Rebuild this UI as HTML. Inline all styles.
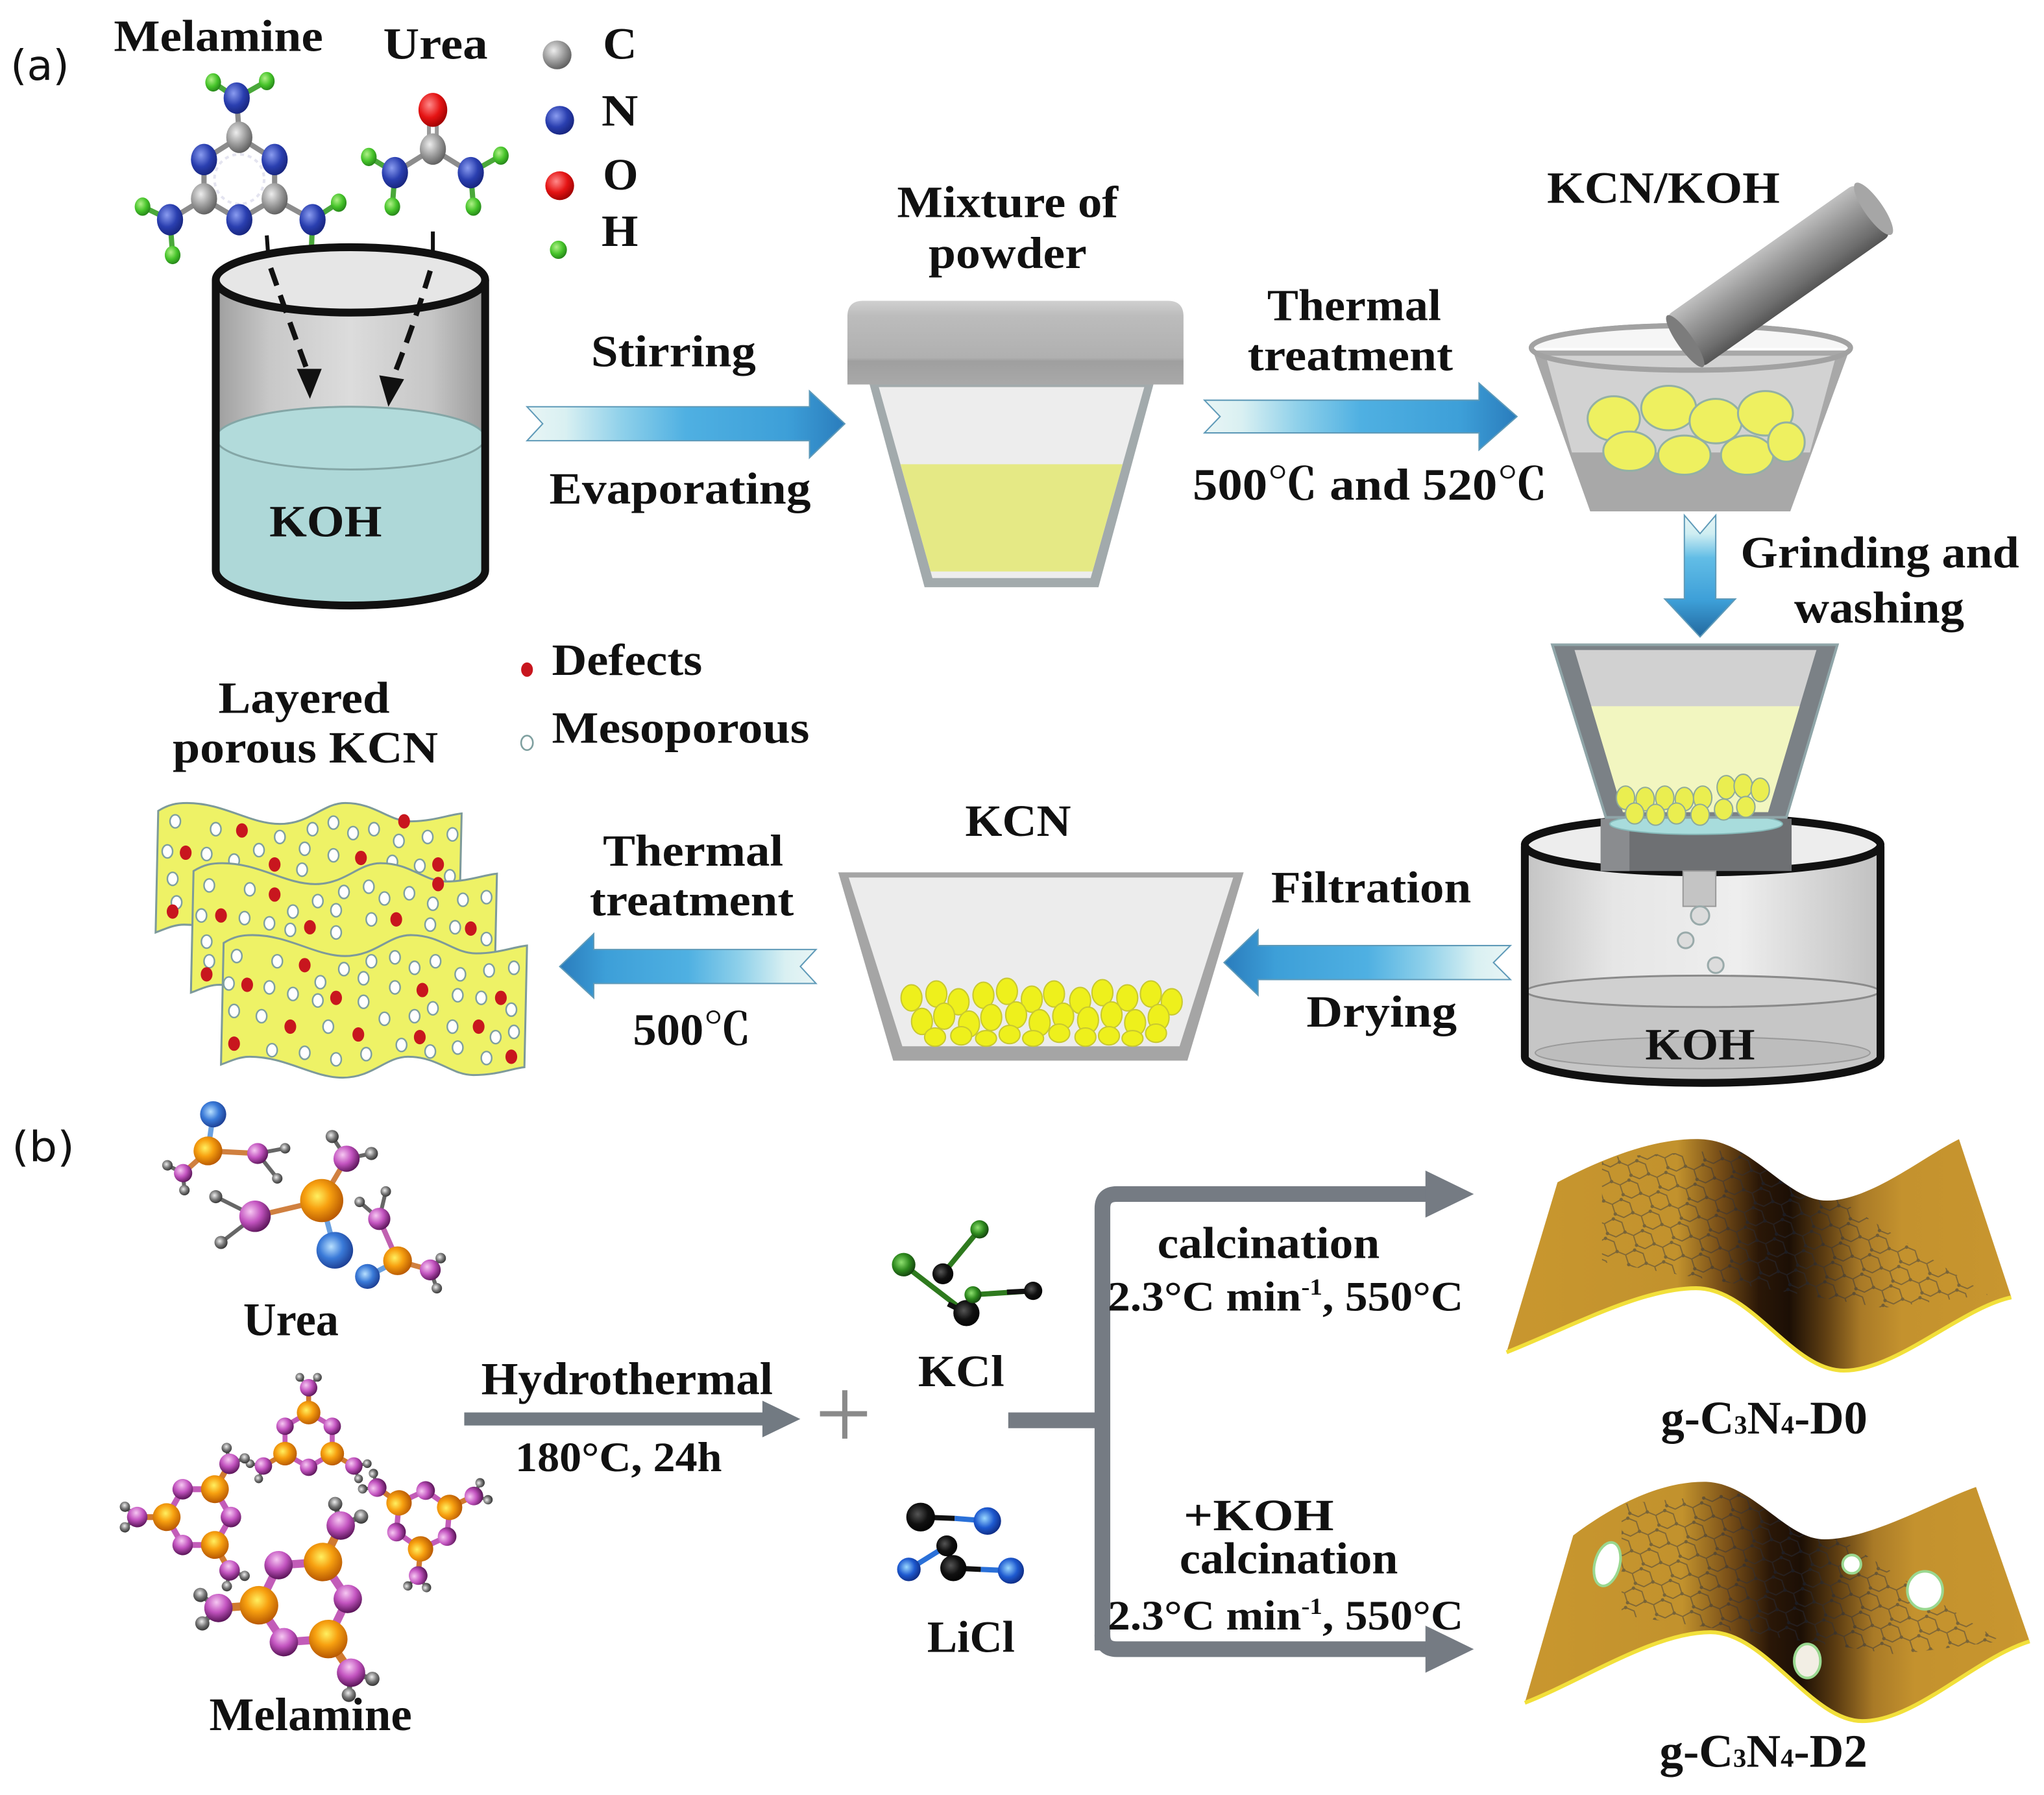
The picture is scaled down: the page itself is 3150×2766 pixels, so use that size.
<!DOCTYPE html>
<html><head><meta charset="utf-8">
<style>
html,body{margin:0;padding:0;background:#fff;}
svg{display:block;}
.t{font-family:"Liberation Serif","Noto Serif CJK SC",serif;font-weight:bold;fill:#111;}
.s{font-family:"DejaVu Sans","Liberation Sans",sans-serif;fill:#111;}
</style></head>
<body>
<svg xmlns="http://www.w3.org/2000/svg" width="3150" height="2766" viewBox="0 0 1563 1372.5" preserveAspectRatio="none">
<defs>
 <linearGradient id="arR" x1="0" y1="0" x2="1" y2="0">
  <stop offset="0" stop-color="#e9f5f5"/><stop offset="0.12" stop-color="#d9f0f2"/>
  <stop offset="0.3" stop-color="#8ed0ea"/><stop offset="0.5" stop-color="#4fb0e2"/>
  <stop offset="0.82" stop-color="#3d9fd8"/><stop offset="1" stop-color="#2a7cbc"/>
 </linearGradient>
 <linearGradient id="arL" x1="1" y1="0" x2="0" y2="0">
  <stop offset="0" stop-color="#e9f5f5"/><stop offset="0.12" stop-color="#d9f0f2"/>
  <stop offset="0.3" stop-color="#8ed0ea"/><stop offset="0.5" stop-color="#4fb0e2"/>
  <stop offset="0.82" stop-color="#3d9fd8"/><stop offset="1" stop-color="#2a7cbc"/>
 </linearGradient>
 <linearGradient id="arD" x1="0" y1="0" x2="0" y2="1">
  <stop offset="0" stop-color="#e9f5f5"/><stop offset="0.15" stop-color="#cfeef2"/>
  <stop offset="0.35" stop-color="#62bde6"/><stop offset="0.7" stop-color="#3d9fd8"/>
  <stop offset="1" stop-color="#22689e"/>
 </linearGradient>
 <radialGradient id="gC" cx=".38" cy=".35" r=".7"><stop offset="0" stop-color="#ededed"/><stop offset=".55" stop-color="#9a9a9a"/><stop offset="1" stop-color="#5a5a5a"/></radialGradient>
 <radialGradient id="gN" cx=".38" cy=".35" r=".7"><stop offset="0" stop-color="#8a9cf0"/><stop offset=".55" stop-color="#2a3fb0"/><stop offset="1" stop-color="#16237a"/></radialGradient>
 <radialGradient id="gR" cx=".38" cy=".35" r=".7"><stop offset="0" stop-color="#ff8a8a"/><stop offset=".55" stop-color="#e51414"/><stop offset="1" stop-color="#9a0000"/></radialGradient>
 <radialGradient id="gG" cx=".38" cy=".35" r=".7"><stop offset="0" stop-color="#b0f088"/><stop offset=".55" stop-color="#46c42a"/><stop offset="1" stop-color="#238018"/></radialGradient>
 <radialGradient id="gO" cx=".4" cy=".4" r=".65"><stop offset="0" stop-color="#fff060"/><stop offset=".45" stop-color="#f7a010"/><stop offset="1" stop-color="#b45400"/></radialGradient>
 <radialGradient id="gP" cx=".35" cy=".35" r=".7"><stop offset="0" stop-color="#f6c8f2"/><stop offset=".5" stop-color="#c354c0"/><stop offset="1" stop-color="#5a1458"/></radialGradient>
 <radialGradient id="gB" cx=".4" cy=".4" r=".65"><stop offset="0" stop-color="#b8e0ff"/><stop offset=".5" stop-color="#3a7ad8"/><stop offset="1" stop-color="#1a3a8e"/></radialGradient>
 <radialGradient id="gH" cx=".4" cy=".4" r=".7"><stop offset="0" stop-color="#eeeeee"/><stop offset=".5" stop-color="#777"/><stop offset="1" stop-color="#222"/></radialGradient>
 <radialGradient id="gK" cx=".4" cy=".4" r=".7"><stop offset="0" stop-color="#555"/><stop offset=".5" stop-color="#111"/><stop offset="1" stop-color="#000"/></radialGradient>
 <radialGradient id="gKg" cx=".4" cy=".4" r=".7"><stop offset="0" stop-color="#8ee070"/><stop offset=".5" stop-color="#2e8a1e"/><stop offset="1" stop-color="#0d300a"/></radialGradient>
 <radialGradient id="gLb" cx=".4" cy=".4" r=".7"><stop offset="0" stop-color="#9ad8ff"/><stop offset=".5" stop-color="#1e5ad0"/><stop offset="1" stop-color="#0a2070"/></radialGradient>
 <linearGradient id="cyl1" x1="0" y1="0" x2="1" y2="0">
  <stop offset="0" stop-color="#9e9e9e"/><stop offset=".2" stop-color="#c8c8c8"/><stop offset=".5" stop-color="#dcdcdc"/><stop offset=".8" stop-color="#c6c6c6"/><stop offset="1" stop-color="#9a9a9a"/>
 </linearGradient>
 <linearGradient id="cyl2" x1="0" y1="0" x2="1" y2="0">
  <stop offset="0" stop-color="#c4c4c4"/><stop offset=".25" stop-color="#e6e6e6"/><stop offset=".6" stop-color="#eeeeee"/><stop offset="1" stop-color="#c0c0c0"/>
 </linearGradient>
 <linearGradient id="lid" x1="0" y1="0" x2="0" y2="1">
  <stop offset="0" stop-color="#d0d0d0"/><stop offset=".18" stop-color="#bcbcbc"/><stop offset=".68" stop-color="#b0b0b0"/><stop offset=".72" stop-color="#9f9f9f"/><stop offset="1" stop-color="#a9a9a9"/>
 </linearGradient>
 <linearGradient id="pest" x1="0" y1="0" x2="0" y2="1">
  <stop offset="0" stop-color="#c0c0c0"/><stop offset=".35" stop-color="#9a9a9a"/><stop offset=".8" stop-color="#6e6e6e"/><stop offset="1" stop-color="#555"/>
 </linearGradient>
 <linearGradient id="gold0" gradientUnits="userSpaceOnUse" x1="1150" y1="0" x2="1540" y2="0">
  <stop offset="0" stop-color="#c9972f"/><stop offset=".34" stop-color="#c2922d"/><stop offset=".42" stop-color="#7a5018"/>
  <stop offset=".5" stop-color="#2a1707"/><stop offset=".56" stop-color="#1c0f05"/><stop offset=".63" stop-color="#5e3e12"/>
  <stop offset=".7" stop-color="#a97a27"/><stop offset=".78" stop-color="#c4922e"/><stop offset="1" stop-color="#c8962f"/>
 </linearGradient>
 <linearGradient id="gold2" gradientUnits="userSpaceOnUse" x1="1160" y1="0" x2="1555" y2="0">
  <stop offset="0" stop-color="#c9972f"/><stop offset=".32" stop-color="#c2922d"/><stop offset=".41" stop-color="#7a5018"/>
  <stop offset=".49" stop-color="#2a1707"/><stop offset=".55" stop-color="#1c0f05"/><stop offset=".62" stop-color="#5e3e12"/>
  <stop offset=".69" stop-color="#a97a27"/><stop offset=".77" stop-color="#c4922e"/><stop offset="1" stop-color="#c8962f"/>
 </linearGradient>
 <pattern id="net" width="24" height="16" patternUnits="userSpaceOnUse" patternTransform="rotate(22)">
  <path d="M0,8 L5,2 L12,2 L17,8 L12,14 L5,14 Z M17,8 L24,8" fill="none" stroke="#2a3040" stroke-width="0.9"/>
  <circle cx="5" cy="2" r="1.3" fill="#1a2a44"/><circle cx="17" cy="8" r="1.3" fill="#1a2a44"/><circle cx="5" cy="14" r="1.3" fill="#1a2a44"/>
 </pattern>
 <clipPath id="clipD0"><path d="M1152,1034 L1191,904 C1225,886 1265,870 1300,871 C1340,872 1365,918 1397,918 C1430,918 1470,885 1498,871 L1538,992 C1500,1000 1450,1048 1410,1048 C1370,1048 1340,985 1297,985 C1255,985 1200,1015 1152,1034 Z"/></clipPath>
 <clipPath id="clipD2"><path d="M1166,1302 L1203,1174 C1235,1150 1270,1133 1303,1133 C1340,1133 1365,1177 1395,1177 C1430,1177 1480,1148 1511,1137 L1552,1255 C1510,1268 1465,1316 1424,1316 C1385,1316 1350,1248 1308,1248 C1265,1248 1210,1285 1166,1302 Z"/></clipPath>
 <g id="mring">
  <polygon points="0,-22 19,-11 19,11 0,22 -19,11 -19,-11" fill="none" stroke="#c25cb8" stroke-width="4"/>
  <g stroke="#d07a30" stroke-width="4"><line x1="0" y1="-22" x2="0" y2="-42"/><line x1="19" y1="11" x2="36.4" y2="21"/><line x1="-19" y1="11" x2="-36.4" y2="21"/></g>
  <g stroke="#666" stroke-width="2.5"><line x1="0" y1="-42" x2="7.1" y2="-50.4"/><line x1="0" y1="-42" x2="-7.1" y2="-50.4"/><line x1="36.4" y1="21" x2="40.2" y2="31.3"/><line x1="36.4" y1="21" x2="47.2" y2="19.1"/><line x1="-36.4" y1="21" x2="-40.2" y2="31.3"/><line x1="-36.4" y1="21" x2="-47.2" y2="19.1"/></g>
  <g fill="url(#gH)"><circle cx="7.1" cy="-50.4" r="3.5"/><circle cx="-7.1" cy="-50.4" r="3.5"/><circle cx="40.2" cy="31.3" r="3.5"/><circle cx="47.2" cy="19.1" r="3.5"/><circle cx="-40.2" cy="31.3" r="3.5"/><circle cx="-47.2" cy="19.1" r="3.5"/></g>
  <g fill="url(#gP)"><circle cx="19" cy="-11" r="7"/><circle cx="0" cy="22" r="7"/><circle cx="-19" cy="-11" r="7"/><circle cx="0" cy="-42" r="7"/><circle cx="36.4" cy="21" r="7"/><circle cx="-36.4" cy="21" r="7"/></g>
  <g fill="url(#gO)"><circle cx="0" cy="-22" r="9.5"/><circle cx="19" cy="11" r="9.5"/><circle cx="-19" cy="11" r="9.5"/></g>
 </g>
</defs>

<rect x="0" y="0" width="1563" height="1372.5" fill="#fff"/>

<!-- ================= (a) ================= -->
<text class="s" x="8" y="61" font-size="32" textLength="45" lengthAdjust="spacingAndGlyphs">(a)</text>
<text class="t" x="87" y="39" font-size="34" textLength="160" lengthAdjust="spacingAndGlyphs">Melamine</text>
<text class="t" x="293" y="45" font-size="34" textLength="80" lengthAdjust="spacingAndGlyphs">Urea</text>

<!-- legend -->
<ellipse cx="426" cy="42" rx="11" ry="11" fill="url(#gC)"/>
<ellipse cx="428" cy="92" rx="11" ry="11" fill="url(#gN)"/>
<ellipse cx="428" cy="142" rx="11" ry="11" fill="url(#gR)"/>
<ellipse cx="427" cy="191" rx="6.5" ry="7" fill="url(#gG)"/>
<text class="t" x="461" y="45" font-size="34" textLength="26" lengthAdjust="spacingAndGlyphs">C</text>
<text class="t" x="460" y="96" font-size="34" textLength="28" lengthAdjust="spacingAndGlyphs">N</text>
<text class="t" x="461" y="145" font-size="34" textLength="27" lengthAdjust="spacingAndGlyphs">O</text>
<text class="t" x="460" y="188" font-size="34" textLength="28" lengthAdjust="spacingAndGlyphs">H</text>

<!-- melamine molecule (a) -->
<g stroke="#8c8c8c" stroke-width="4" fill="none">
 <polygon points="183,105 156,122 156,152 183,168 210,152 210,122"/>
 <line x1="183" y1="105" x2="181" y2="75"/><line x1="156" y1="152" x2="130" y2="168"/><line x1="210" y1="152" x2="239" y2="168"/>
</g>
<g stroke="#4aa83a" stroke-width="4">
 <line x1="181" y1="75" x2="163" y2="63"/><line x1="181" y1="75" x2="204" y2="62"/>
 <line x1="130" y1="168" x2="109" y2="158"/><line x1="130" y1="168" x2="132" y2="195"/>
 <line x1="239" y1="168" x2="259" y2="155"/><line x1="239" y1="168" x2="238" y2="194"/>
</g>
<circle cx="183" cy="137" r="19" fill="none" stroke="#e4e4f0" stroke-width="2" stroke-dasharray="3,3"/>
<g fill="url(#gG)">
 <ellipse cx="163" cy="63" rx="6" ry="7"/><ellipse cx="204" cy="62" rx="6" ry="7"/>
 <ellipse cx="109" cy="158" rx="6" ry="7"/><ellipse cx="132" cy="195" rx="6" ry="7"/>
 <ellipse cx="259" cy="155" rx="6" ry="7"/><ellipse cx="238" cy="194" rx="6" ry="7"/>
</g>
<g fill="url(#gN)">
 <ellipse cx="181" cy="75" rx="10" ry="12"/><ellipse cx="156" cy="122" rx="10" ry="12"/><ellipse cx="210" cy="122" rx="10" ry="12"/>
 <ellipse cx="183" cy="168" rx="10" ry="12"/><ellipse cx="130" cy="168" rx="10" ry="12"/><ellipse cx="239" cy="168" rx="10" ry="12"/>
</g>
<g fill="url(#gC)">
 <ellipse cx="183" cy="105" rx="10" ry="12"/><ellipse cx="156" cy="152" rx="10" ry="12"/><ellipse cx="210" cy="152" rx="10" ry="12"/>
</g>

<!-- urea molecule (a) -->
<g stroke="#999" stroke-width="3"><line x1="328" y1="86" x2="328" y2="112"/><line x1="334" y1="86" x2="334" y2="112"/></g>
<g stroke="#8c8c8c" stroke-width="4"><line x1="331" y1="114" x2="302" y2="132"/><line x1="331" y1="114" x2="360" y2="132"/></g>
<g stroke="#4aa83a" stroke-width="4">
 <line x1="302" y1="132" x2="282" y2="120"/><line x1="302" y1="132" x2="300" y2="158"/>
 <line x1="360" y1="132" x2="383" y2="119"/><line x1="360" y1="132" x2="362" y2="158"/>
</g>
<g fill="url(#gG)">
 <ellipse cx="282" cy="120" rx="6" ry="7"/><ellipse cx="300" cy="158" rx="6" ry="7"/>
 <ellipse cx="383" cy="119" rx="6" ry="7"/><ellipse cx="362" cy="158" rx="6" ry="7"/>
</g>
<ellipse cx="331" cy="84" rx="11" ry="13" fill="url(#gR)"/>
<ellipse cx="331" cy="114" rx="10" ry="12" fill="url(#gC)"/>
<ellipse cx="302" cy="132" rx="10" ry="12" fill="url(#gN)"/>
<ellipse cx="360" cy="132" rx="10" ry="12" fill="url(#gN)"/>

<!-- beaker 1 (KOH) -->
<path d="M165,214 L165,436 A103,27 0 0 0 371,436 L371,214 Z" fill="url(#cyl1)"/>
<path d="M165,335 L165,436 A103,27 0 0 0 371,436 L371,335 Z" fill="#aed8d8"/>
<ellipse cx="268" cy="335" rx="103" ry="24" fill="#b2dbdb" stroke="#84a6a6" stroke-width="1.5"/>
<ellipse cx="268" cy="214" rx="103" ry="25" fill="#e6e6e6" stroke="#111" stroke-width="6"/>
<path d="M165,214 L165,436 A103,27 0 0 0 371,436 L371,214" fill="none" stroke="#111" stroke-width="6"/>
<text class="t" x="206" y="410" font-size="34" textLength="86" lengthAdjust="spacingAndGlyphs">KOH</text>
<!-- dashed arrows -->
<line x1="204" y1="180" x2="205" y2="194" stroke="#111" stroke-width="3"/>
<line x1="331" y1="177" x2="331" y2="192" stroke="#111" stroke-width="3"/>
<path d="M207,205 Q222,248 236,286" fill="none" stroke="#111" stroke-width="4" stroke-dasharray="14,8"/>
<polygon points="227,282 246,282 237,305" fill="#111"/>
<path d="M329,207 Q316,250 300,290" fill="none" stroke="#111" stroke-width="4" stroke-dasharray="14,8"/>
<polygon points="290,287 309,290 297,311" fill="#111"/>

<!-- arrow 1 -->
<polygon points="403,311 619,311 619,299 646,324 619,350 619,337 403,337 415,324" fill="url(#arR)" stroke="#5f9ab8" stroke-width="1"/>
<text class="t" x="452" y="280" font-size="34" textLength="126" lengthAdjust="spacingAndGlyphs">Stirring</text>
<text class="t" x="420" y="385" font-size="34" textLength="200" lengthAdjust="spacingAndGlyphs">Evaporating</text>

<!-- Mixture jar -->
<polygon points="665,294 882,294 840,449 707,449" fill="#a2aaac"/>
<polygon points="672,296 875,296 834,442 713,442" fill="#ededed"/>
<polygon points="688.6,355 858.4,355 835.4,437 711.6,437" fill="#e5e985"/>
<path d="M648,242 Q648,230 660,230 L893,230 Q905,230 905,242 L905,294 L648,294 Z" fill="url(#lid)"/>
<text class="t" x="686" y="166" font-size="34" textLength="169" lengthAdjust="spacingAndGlyphs">Mixture of</text>
<text class="t" x="710" y="205" font-size="34" textLength="121" lengthAdjust="spacingAndGlyphs">powder</text>

<!-- arrow 2 -->
<polygon points="921,306 1131,306 1131,293 1160,318.5 1131,344 1131,331 921,331 933,318.5" fill="url(#arR)" stroke="#5f9ab8" stroke-width="1"/>
<text class="t" x="969" y="245" font-size="34" textLength="133" lengthAdjust="spacingAndGlyphs">Thermal</text>
<text class="t" x="954" y="283" font-size="34" textLength="157" lengthAdjust="spacingAndGlyphs">treatment</text>
<text class="t" x="912" y="382" font-size="34" textLength="271" lengthAdjust="spacingAndGlyphs">500℃ and  520℃</text>

<!-- mortar -->
<polygon points="1172,268 1414,268 1369,391 1216,391" fill="#a8a8a8"/>
<polygon points="1182,272 1404,272 1384,346 1202,346" fill="#d2d2d2"/>
<g fill="#eef060" stroke="#93b0a4" stroke-width="1.5">
 <ellipse cx="1234" cy="320" rx="20" ry="17"/><ellipse cx="1276" cy="312" rx="21" ry="17"/>
 <ellipse cx="1312" cy="322" rx="20" ry="17"/><ellipse cx="1350" cy="316" rx="21" ry="17"/>
 <ellipse cx="1246" cy="345" rx="20" ry="15"/><ellipse cx="1288" cy="348" rx="20" ry="15"/>
 <ellipse cx="1336" cy="348" rx="20" ry="15"/><ellipse cx="1366" cy="338" rx="14" ry="15"/>
</g>
<ellipse cx="1293" cy="266" rx="122" ry="17" fill="none" stroke="#a2a2a2" stroke-width="4"/>
<path d="M1171,266 A122,17 0 0 1 1415,266" fill="#f6f6f6" stroke="#a2a2a2" stroke-width="4"/>
<g transform="translate(1287,262) rotate(-35.1)">
 <rect x="0" y="-24" width="178" height="48" rx="6" fill="url(#pest)"/>
 <ellipse cx="178" cy="0" rx="7" ry="24" fill="#a6a6a6"/>
 <ellipse cx="2" cy="0" rx="6" ry="24" fill="#7c7c7c"/>
</g>
<text class="t" x="1183" y="155" font-size="34" textLength="178" lengthAdjust="spacingAndGlyphs">KCN/KOH</text>

<!-- down arrow -->
<polygon points="1288,394 1300,408 1312,394 1312,458 1327,458 1300,487 1273,458 1288,458" fill="url(#arD)" stroke="#5f9ab8" stroke-width="1"/>
<text class="t" x="1331" y="434" font-size="34" textLength="213" lengthAdjust="spacingAndGlyphs">Grinding and</text>
<text class="t" x="1372" y="476" font-size="34" textLength="130" lengthAdjust="spacingAndGlyphs">washing</text>

<!-- filtration setup: cylinder 2 -->
<path d="M1166,647 L1166,808 A136,20 0 0 0 1438,808 L1438,647 Z" fill="url(#cyl2)"/>
<path d="M1166,758 L1166,808 A136,20 0 0 0 1438,808 L1438,758 Z" fill="#c6c6c6"/>
<ellipse cx="1302" cy="758" rx="135" ry="12" fill="#d0d0d0" stroke="#8a8a8a" stroke-width="1.5"/>
<ellipse cx="1302" cy="805" rx="128" ry="12" fill="#bdbdbd" stroke="#9a9a9a" stroke-width="1"/>
<ellipse cx="1302" cy="646" rx="136" ry="21" fill="#ededed" stroke="#111" stroke-width="6"/>
<rect x="1224" y="626" width="146" height="40" fill="#6e7073"/>
<rect x="1224" y="626" width="22" height="40" fill="#8a8c8f"/>
<ellipse cx="1297" cy="630" rx="66" ry="8" fill="#a8dcdc" stroke="#86b8b8" stroke-width="1"/>
<!-- funnel -->
<polygon points="1187,493 1405,493 1366,625 1228,625" fill="#7b8186" stroke="#8fa5a8" stroke-width="2"/>
<polygon points="1204,497 1389,497 1352,621 1241,621" fill="#d1d1d1"/>
<polygon points="1216.8,540 1376.2,540 1352,621 1241,621" fill="#f2f6c0"/>
<g fill="#eaee50" stroke="#8eaa9a" stroke-width="1">
 <ellipse cx="1243" cy="610" rx="7" ry="9"/><ellipse cx="1258" cy="611" rx="7" ry="9"/><ellipse cx="1273" cy="610" rx="7" ry="9"/>
 <ellipse cx="1288" cy="611" rx="7" ry="9"/><ellipse cx="1302" cy="610" rx="7" ry="9"/><ellipse cx="1320" cy="602" rx="7" ry="9"/>
 <ellipse cx="1333" cy="601" rx="7" ry="9"/><ellipse cx="1346" cy="604" rx="7" ry="9"/>
 <ellipse cx="1250" cy="622" rx="7" ry="8"/><ellipse cx="1266" cy="623" rx="7" ry="8"/><ellipse cx="1282" cy="622" rx="7" ry="8"/>
 <ellipse cx="1300" cy="623" rx="7" ry="8"/><ellipse cx="1318" cy="619" rx="7" ry="8"/><ellipse cx="1335" cy="617" rx="7" ry="8"/>
</g>
<rect x="1287" y="666" width="25" height="27" fill="#c4c4c4" stroke="#9a9a9a" stroke-width="1"/>
<g fill="#dcdcdc" stroke="#9aa" stroke-width="1.5">
 <circle cx="1300" cy="700" r="7"/><circle cx="1289" cy="719" r="6"/><circle cx="1312" cy="738" r="6"/>
</g>
<path d="M1166,647 L1166,808 A136,20 0 0 0 1438,808 L1438,647" fill="none" stroke="#111" stroke-width="6"/>
<text class="t" x="1258" y="810" font-size="34" textLength="84" lengthAdjust="spacingAndGlyphs">KOH</text>

<!-- arrow 3 (filtration) -->
<polygon points="936,736 962,711 962,723 1155,723 1142,736 1155,749 962,749 962,761" fill="url(#arL)" stroke="#5f9ab8" stroke-width="1"/>
<text class="t" x="972" y="690" font-size="34" textLength="153" lengthAdjust="spacingAndGlyphs">Filtration</text>
<text class="t" x="999" y="785" font-size="34" textLength="115" lengthAdjust="spacingAndGlyphs">Drying</text>

<!-- KCN bowl -->
<polygon points="641,667 951,667 908,811 683,811" fill="#a5a5a5"/>
<polygon points="649,671 943,671 902,800 690,800" fill="#ececec"/>
<g fill="#eef01c" stroke="#c8c830" stroke-width="1">
 <ellipse cx="697" cy="763" rx="8" ry="10"/><ellipse cx="716" cy="760" rx="8" ry="10"/><ellipse cx="733" cy="766" rx="8" ry="10"/>
 <ellipse cx="752" cy="761" rx="8" ry="10"/><ellipse cx="770" cy="758" rx="8" ry="10"/><ellipse cx="789" cy="764" rx="8" ry="10"/>
 <ellipse cx="806" cy="760" rx="8" ry="10"/><ellipse cx="826" cy="765" rx="8" ry="10"/><ellipse cx="843" cy="759" rx="8" ry="10"/>
 <ellipse cx="862" cy="763" rx="8" ry="10"/><ellipse cx="880" cy="760" rx="8" ry="10"/><ellipse cx="896" cy="766" rx="8" ry="10"/>
 <ellipse cx="705" cy="781" rx="8" ry="10"/><ellipse cx="722" cy="777" rx="8" ry="10"/><ellipse cx="741" cy="783" rx="8" ry="10"/>
 <ellipse cx="758" cy="778" rx="8" ry="10"/><ellipse cx="777" cy="776" rx="8" ry="10"/><ellipse cx="795" cy="782" rx="8" ry="10"/>
 <ellipse cx="813" cy="777" rx="8" ry="10"/><ellipse cx="832" cy="780" rx="8" ry="10"/><ellipse cx="850" cy="776" rx="8" ry="10"/>
 <ellipse cx="868" cy="782" rx="8" ry="10"/><ellipse cx="886" cy="778" rx="8" ry="10"/>
 <ellipse cx="715" cy="793" rx="8" ry="7"/><ellipse cx="735" cy="792" rx="8" ry="7"/><ellipse cx="754" cy="794" rx="8" ry="6"/>
 <ellipse cx="772" cy="791" rx="8" ry="7"/><ellipse cx="790" cy="794" rx="8" ry="6"/><ellipse cx="810" cy="790" rx="8" ry="7"/>
 <ellipse cx="830" cy="793" rx="8" ry="7"/><ellipse cx="848" cy="792" rx="8" ry="7"/><ellipse cx="866" cy="794" rx="8" ry="6"/>
 <ellipse cx="884" cy="790" rx="8" ry="7"/>
</g>
<text class="t" x="738" y="639" font-size="34" textLength="81" lengthAdjust="spacingAndGlyphs">KCN</text>

<!-- arrow 4 (thermal, left) -->
<polygon points="428,739 454,714 454,726 624,726 612,739 624,752 454,752 454,763" fill="url(#arL)" stroke="#5f9ab8" stroke-width="1"/>
<text class="t" x="461" y="662" font-size="34" textLength="138" lengthAdjust="spacingAndGlyphs">Thermal</text>
<text class="t" x="451" y="700" font-size="34" textLength="156" lengthAdjust="spacingAndGlyphs">treatment</text>
<text class="t" x="484" y="799" font-size="34" textLength="90" lengthAdjust="spacingAndGlyphs">500℃</text>

<!-- Layered porous KCN -->
<text class="t" x="167" y="545" font-size="34" textLength="131" lengthAdjust="spacingAndGlyphs">Layered</text>
<text class="t" x="132" y="583" font-size="34" textLength="203" lengthAdjust="spacingAndGlyphs">porous KCN</text>
<ellipse cx="403" cy="512" rx="4.5" ry="5.5" fill="#c8161e"/>
<text class="t" x="422" y="516" font-size="34" textLength="115" lengthAdjust="spacingAndGlyphs">Defects</text>
<ellipse cx="403" cy="568" rx="4.5" ry="5.5" fill="#fff" stroke="#7fa0a0" stroke-width="1.3"/>
<text class="t" x="422" y="568" font-size="34" textLength="197" lengthAdjust="spacingAndGlyphs">Mesoporous</text>

<!-- sheet 1 -->
<path d="M121,620 C129,615 135,614 143,614 C171,614 191,630 214,630 C237,630 247,614 264,614 C287,614 297,628 314,628 C331,628 343,623 353,622 L351,715 C341,716 331,721 312,721 C295,721 285,707 262,707 C245,707 235,723 212,723 C189,723 169,707 141,707 C133,707 127,710 119,713 Z" fill="#eef266" stroke="#7d9a9a" stroke-width="1.5"/>
<g fill="#fff" stroke="#7fa0a0" stroke-width="1.2">
 <ellipse cx="134" cy="628" rx="4" ry="5"/><ellipse cx="165" cy="634" rx="4" ry="5"/><ellipse cx="214" cy="640" rx="4" ry="5"/>
 <ellipse cx="239" cy="634" rx="4" ry="5"/><ellipse cx="255" cy="629" rx="4" ry="5"/><ellipse cx="270" cy="637" rx="4" ry="5"/>
 <ellipse cx="286" cy="634" rx="4" ry="5"/><ellipse cx="305" cy="643" rx="4" ry="5"/><ellipse cx="327" cy="640" rx="4" ry="5"/>
 <ellipse cx="346" cy="638" rx="4" ry="5"/><ellipse cx="128" cy="651" rx="4" ry="5"/><ellipse cx="158" cy="653" rx="4" ry="5"/>
 <ellipse cx="179" cy="658" rx="4" ry="5"/><ellipse cx="198" cy="650" rx="4" ry="5"/><ellipse cx="233" cy="649" rx="4" ry="5"/>
 <ellipse cx="231" cy="665" rx="4" ry="5"/><ellipse cx="255" cy="654" rx="4" ry="5"/><ellipse cx="300" cy="659" rx="4" ry="5"/>
 <ellipse cx="321" cy="662" rx="4" ry="5"/><ellipse cx="344" cy="670" rx="4" ry="5"/><ellipse cx="132" cy="672" rx="4" ry="5"/>
 <ellipse cx="135" cy="690" rx="4" ry="5"/>
</g>
<g fill="#c8161e">
 <ellipse cx="185" cy="635" rx="4.5" ry="5.5"/><ellipse cx="309" cy="628" rx="4.5" ry="5.5"/><ellipse cx="142" cy="652" rx="4.5" ry="5.5"/>
 <ellipse cx="210" cy="661" rx="4.5" ry="5.5"/><ellipse cx="276" cy="656" rx="4.5" ry="5.5"/><ellipse cx="335" cy="661" rx="4.5" ry="5.5"/>
 <ellipse cx="132" cy="697" rx="4.5" ry="5.5"/>
</g>
<!-- sheet 2 -->
<path d="M148,666 C156,661 162,660 170,660 C198,660 218,676 241,676 C264,676 274,660 291,660 C314,660 324,674 341,674 C358,674 370,669 380,668 L378,761 C368,762 358,767 339,767 C322,767 312,753 289,753 C272,753 262,769 239,769 C216,769 196,753 168,753 C160,753 154,756 146,759 Z" fill="#eef266" stroke="#7d9a9a" stroke-width="1.5"/>
<g fill="#fff" stroke="#7fa0a0" stroke-width="1.2">
 <ellipse cx="160" cy="677" rx="4" ry="5"/><ellipse cx="191" cy="680" rx="4" ry="5"/><ellipse cx="243" cy="689" rx="4" ry="5"/>
 <ellipse cx="263" cy="682" rx="4" ry="5"/><ellipse cx="282" cy="678" rx="4" ry="5"/><ellipse cx="294" cy="687" rx="4" ry="5"/>
 <ellipse cx="313" cy="683" rx="4" ry="5"/><ellipse cx="331" cy="691" rx="4" ry="5"/><ellipse cx="354" cy="688" rx="4" ry="5"/>
 <ellipse cx="372" cy="686" rx="4" ry="5"/><ellipse cx="154" cy="700" rx="4" ry="5"/><ellipse cx="187" cy="702" rx="4" ry="5"/>
 <ellipse cx="206" cy="706" rx="4" ry="5"/><ellipse cx="224" cy="697" rx="4" ry="5"/><ellipse cx="222" cy="711" rx="4" ry="5"/>
 <ellipse cx="257" cy="696" rx="4" ry="5"/><ellipse cx="257" cy="713" rx="4" ry="5"/><ellipse cx="284" cy="703" rx="4" ry="5"/>
 <ellipse cx="329" cy="707" rx="4" ry="5"/><ellipse cx="348" cy="709" rx="4" ry="5"/><ellipse cx="372" cy="718" rx="4" ry="5"/>
 <ellipse cx="158" cy="720" rx="4" ry="5"/><ellipse cx="160" cy="735" rx="4" ry="5"/>
</g>
<g fill="#c8161e">
 <ellipse cx="210" cy="684" rx="4.5" ry="5.5"/><ellipse cx="169" cy="700" rx="4.5" ry="5.5"/><ellipse cx="237" cy="709" rx="4.5" ry="5.5"/>
 <ellipse cx="303" cy="703" rx="4.5" ry="5.5"/><ellipse cx="360" cy="710" rx="4.5" ry="5.5"/><ellipse cx="335" cy="676" rx="4.5" ry="5.5"/>
 <ellipse cx="158" cy="745" rx="4.5" ry="5.5"/>
</g>
<!-- sheet 3 -->
<path d="M171,721 C179,716 185,715 193,715 C221,715 241,731 264,731 C287,731 297,715 314,715 C337,715 347,729 364,729 C381,729 393,724 403,723 L401,816 C391,817 381,822 362,822 C345,822 335,808 312,808 C295,808 285,824 262,824 C239,824 219,808 191,808 C183,808 177,811 169,814 Z" fill="#eef266" stroke="#7d9a9a" stroke-width="1.5"/>
<g fill="#fff" stroke="#7fa0a0" stroke-width="1.2">
 <ellipse cx="181" cy="731" rx="4" ry="5"/><ellipse cx="212" cy="735" rx="4" ry="5"/><ellipse cx="263" cy="741" rx="4" ry="5"/>
 <ellipse cx="284" cy="735" rx="4" ry="5"/><ellipse cx="302" cy="732" rx="4" ry="5"/><ellipse cx="317" cy="740" rx="4" ry="5"/>
 <ellipse cx="333" cy="735" rx="4" ry="5"/><ellipse cx="352" cy="745" rx="4" ry="5"/><ellipse cx="374" cy="742" rx="4" ry="5"/>
 <ellipse cx="393" cy="740" rx="4" ry="5"/><ellipse cx="175" cy="752" rx="4" ry="5"/><ellipse cx="206" cy="755" rx="4" ry="5"/>
 <ellipse cx="224" cy="760" rx="4" ry="5"/><ellipse cx="243" cy="765" rx="4" ry="5"/><ellipse cx="245" cy="751" rx="4" ry="5"/>
 <ellipse cx="278" cy="748" rx="4" ry="5"/><ellipse cx="278" cy="766" rx="4" ry="5"/><ellipse cx="302" cy="755" rx="4" ry="5"/>
 <ellipse cx="331" cy="771" rx="4" ry="5"/><ellipse cx="350" cy="761" rx="4" ry="5"/><ellipse cx="368" cy="763" rx="4" ry="5"/>
 <ellipse cx="391" cy="772" rx="4" ry="5"/><ellipse cx="179" cy="773" rx="4" ry="5"/><ellipse cx="200" cy="777" rx="4" ry="5"/>
 <ellipse cx="251" cy="785" rx="4" ry="5"/><ellipse cx="294" cy="779" rx="4" ry="5"/><ellipse cx="317" cy="777" rx="4" ry="5"/>
 <ellipse cx="346" cy="785" rx="4" ry="5"/><ellipse cx="379" cy="793" rx="4" ry="5"/><ellipse cx="393" cy="789" rx="4" ry="5"/>
 <ellipse cx="208" cy="803" rx="4" ry="5"/><ellipse cx="233" cy="805" rx="4" ry="5"/><ellipse cx="257" cy="810" rx="4" ry="5"/>
 <ellipse cx="280" cy="806" rx="4" ry="5"/><ellipse cx="307" cy="799" rx="4" ry="5"/><ellipse cx="329" cy="804" rx="4" ry="5"/>
 <ellipse cx="350" cy="801" rx="4" ry="5"/><ellipse cx="372" cy="809" rx="4" ry="5"/>
</g>
<g fill="#c8161e">
 <ellipse cx="233" cy="738" rx="4.5" ry="5.5"/><ellipse cx="257" cy="763" rx="4.5" ry="5.5"/><ellipse cx="323" cy="757" rx="4.5" ry="5.5"/>
 <ellipse cx="383" cy="763" rx="4.5" ry="5.5"/><ellipse cx="189" cy="753" rx="4.5" ry="5.5"/><ellipse cx="222" cy="785" rx="4.5" ry="5.5"/>
 <ellipse cx="274" cy="791" rx="4.5" ry="5.5"/><ellipse cx="321" cy="793" rx="4.5" ry="5.5"/><ellipse cx="366" cy="785" rx="4.5" ry="5.5"/>
 <ellipse cx="179" cy="798" rx="4.5" ry="5.5"/><ellipse cx="391" cy="808" rx="4.5" ry="5.5"/>
</g>

<!-- ================= (b) ================= -->
<text class="s" x="9" y="888" font-size="32" textLength="48" lengthAdjust="spacingAndGlyphs">(b)</text>

<!-- urea molecules (b) -->
<g stroke-width="4">
 <line x1="163" y1="852" x2="159" y2="880" stroke="#6aa0e0"/>
 <line x1="159" y1="880" x2="197" y2="882" stroke="#d08040"/>
 <line x1="159" y1="880" x2="140" y2="897" stroke="#d08040"/>
 <line x1="246" y1="918" x2="195" y2="930" stroke="#d08040"/>
 <line x1="246" y1="918" x2="265" y2="886" stroke="#d08040"/>
 <line x1="246" y1="918" x2="256" y2="956" stroke="#6aa0e0"/>
 <line x1="290" y1="932" x2="304" y2="964" stroke="#c060b0"/>
 <line x1="304" y1="964" x2="281" y2="976" stroke="#6aa0e0"/>
 <line x1="304" y1="964" x2="329" y2="971" stroke="#d08040"/>
</g>
<g stroke="#666" stroke-width="3">
 <line x1="197" y1="882" x2="218" y2="878"/><line x1="197" y1="882" x2="212" y2="901"/>
 <line x1="140" y1="897" x2="128" y2="891"/><line x1="140" y1="897" x2="141" y2="910"/>
 <line x1="195" y1="930" x2="165" y2="915"/><line x1="195" y1="930" x2="169" y2="950"/>
 <line x1="265" y1="886" x2="254" y2="869"/><line x1="265" y1="886" x2="284" y2="882"/>
 <line x1="290" y1="932" x2="275" y2="919"/><line x1="290" y1="932" x2="295" y2="911"/>
 <line x1="329" y1="971" x2="337" y2="962"/><line x1="329" y1="971" x2="334" y2="985"/>
</g>
<g fill="url(#gH)">
 <circle cx="218" cy="878" r="4"/><circle cx="212" cy="901" r="4"/><circle cx="128" cy="891" r="4"/><circle cx="141" cy="910" r="4"/>
 <circle cx="165" cy="915" r="5"/><circle cx="169" cy="950" r="5"/><circle cx="254" cy="869" r="5"/><circle cx="284" cy="882" r="5"/>
 <circle cx="275" cy="919" r="4"/><circle cx="295" cy="911" r="4"/><circle cx="337" cy="962" r="4"/><circle cx="334" cy="985" r="4"/>
</g>
<circle cx="163" cy="852" r="10" fill="url(#gB)"/>
<circle cx="159" cy="880" r="11" fill="url(#gO)"/>
<circle cx="197" cy="882" r="8" fill="url(#gP)"/>
<circle cx="140" cy="897" r="7" fill="url(#gP)"/>
<circle cx="195" cy="930" r="12" fill="url(#gP)"/>
<circle cx="265" cy="886" r="10" fill="url(#gP)"/>
<circle cx="256" cy="956" r="14" fill="url(#gB)"/>
<circle cx="246" cy="918" r="16.5" fill="url(#gO)"/>
<circle cx="290" cy="932" r="8.5" fill="url(#gP)"/>
<circle cx="281" cy="976" r="9.5" fill="url(#gB)"/>
<circle cx="329" cy="971" r="8" fill="url(#gP)"/>
<circle cx="304" cy="964" r="11" fill="url(#gO)"/>
<text class="t" x="186" y="1021" font-size="36" textLength="73" lengthAdjust="spacingAndGlyphs">Urea</text>

<!-- melamine rings (b) -->
<use href="#mring" transform="translate(236,1101) scale(0.95)"/>
<use href="#mring" transform="translate(152,1160) rotate(30) scale(1.12)"/>
<use href="#mring" transform="translate(323.5,1162) rotate(-55) scale(1.02)"/>
<use href="#mring" transform="translate(232,1225) rotate(26) scale(1.55)"/>
<text class="t" x="160" y="1323" font-size="36" textLength="155" lengthAdjust="spacingAndGlyphs">Melamine</text>

<!-- hydrothermal arrow -->
<line x1="355" y1="1085" x2="586" y2="1085" stroke="#727a82" stroke-width="10"/>
<polygon points="583,1071 612,1085 583,1099" fill="#727a82"/>
<text class="t" x="368" y="1066" font-size="35" textLength="223" lengthAdjust="spacingAndGlyphs">Hydrothermal</text>
<text class="t" x="394" y="1125" font-size="32" textLength="158" lengthAdjust="spacingAndGlyphs">180°C, 24h</text>
<g stroke="#8a8a8a" stroke-width="4"><line x1="627" y1="1081" x2="663" y2="1081"/><line x1="646" y1="1063" x2="646" y2="1100"/></g>

<!-- KCl -->
<g stroke-width="4">
 <line x1="749" y1="940" x2="721" y2="974" stroke="#2e7a1e"/>
 <line x1="691" y1="967" x2="739" y2="1004" stroke="#2e7a1e"/>
 <line x1="744" y1="990" x2="790" y2="987" stroke="#2e7a1e"/>
 <line x1="725" y1="997" x2="739" y2="1004" stroke="#111"/>
 <line x1="770" y1="988" x2="790" y2="987" stroke="#111"/>
</g>
<circle cx="749" cy="940" r="7" fill="url(#gKg)"/>
<circle cx="721" cy="974" r="8" fill="url(#gK)"/>
<circle cx="691" cy="967" r="9" fill="url(#gKg)"/>
<circle cx="739" cy="1004" r="10" fill="url(#gK)"/>
<circle cx="744" cy="990" r="6.5" fill="url(#gKg)"/>
<circle cx="790" cy="987" r="7" fill="url(#gK)"/>
<text class="t" x="702" y="1060" font-size="34" textLength="66" lengthAdjust="spacingAndGlyphs">KCl</text>

<!-- LiCl -->
<g stroke-width="4">
 <line x1="704" y1="1160" x2="730" y2="1161" stroke="#111"/><line x1="730" y1="1161" x2="755" y2="1163" stroke="#2a70d8"/>
 <line x1="724" y1="1182" x2="695" y2="1200" stroke="#2a70d8"/><line x1="724" y1="1182" x2="729" y2="1199" stroke="#111"/>
 <line x1="729" y1="1199" x2="750" y2="1200" stroke="#111"/><line x1="750" y1="1200" x2="773" y2="1201" stroke="#2a70d8"/>
</g>
<circle cx="704" cy="1160" r="11" fill="url(#gK)"/>
<circle cx="755" cy="1163" r="10.5" fill="url(#gLb)"/>
<circle cx="724" cy="1182" r="8" fill="url(#gK)"/>
<circle cx="695" cy="1200" r="9" fill="url(#gLb)"/>
<circle cx="729" cy="1199" r="10" fill="url(#gK)"/>
<circle cx="773" cy="1201" r="10" fill="url(#gLb)"/>
<text class="t" x="709" y="1263" font-size="34" textLength="67" lengthAdjust="spacingAndGlyphs">LiCl</text>

<!-- branch connector -->
<g stroke="#757b83" stroke-width="12" fill="none">
 <line x1="771" y1="1086" x2="843" y2="1086"/>
 <path d="M843,1262 L843,924 Q843,913 854,913 L1092,913"/>
 <path d="M843,1250 Q843,1261 854,1261 L1092,1261"/>
</g>
<polygon points="1090,895 1127,913 1090,931" fill="#757b83"/>
<polygon points="1090,1243 1127,1261 1090,1279" fill="#757b83"/>

<text class="t" x="885" y="962" font-size="34" textLength="170" lengthAdjust="spacingAndGlyphs">calcination</text>
<text class="t" x="847" y="1002" font-size="32" textLength="272" lengthAdjust="spacingAndGlyphs">2.3°C min<tspan font-size="18" dy="-12">-1</tspan><tspan dy="12">, 550°C</tspan></text>
<text class="t" x="905" y="1170" font-size="34" textLength="115" lengthAdjust="spacingAndGlyphs">+KOH</text>
<text class="t" x="902" y="1203" font-size="34" textLength="167" lengthAdjust="spacingAndGlyphs">calcination</text>
<text class="t" x="847" y="1246" font-size="32" textLength="272" lengthAdjust="spacingAndGlyphs">2.3°C min<tspan font-size="18" dy="-12">-1</tspan><tspan dy="12">, 550°C</tspan></text>

<!-- g-C3N4-D0 sheet -->
<path d="M1152,1034 L1191,904 C1225,886 1265,870 1300,871 C1340,872 1365,918 1397,918 C1430,918 1470,885 1498,871 L1538,992 C1500,1000 1450,1048 1410,1048 C1370,1048 1340,985 1297,985 C1255,985 1200,1015 1152,1034 Z" fill="url(#gold0)"/>
<g clip-path="url(#clipD0)" opacity="0.45">
 <polygon points="1225,885 1345,878 1520,990 1440,1000 1225,965" fill="url(#net)"/>
</g>
<path d="M1538,992 C1500,1000 1450,1048 1410,1048 C1370,1048 1340,985 1297,985 C1255,985 1200,1015 1152,1034" fill="none" stroke="#f2e03a" stroke-width="3"/>
<text class="t" x="1270" y="1096" font-size="36" textLength="158" lengthAdjust="spacingAndGlyphs">g-C<tspan font-size="20">3</tspan>N<tspan font-size="20">4</tspan>-D0</text>

<!-- g-C3N4-D2 sheet -->
<path d="M1166,1302 L1203,1174 C1235,1150 1270,1133 1303,1133 C1340,1133 1365,1177 1395,1177 C1430,1177 1480,1148 1511,1137 L1552,1255 C1510,1268 1465,1316 1424,1316 C1385,1316 1350,1248 1308,1248 C1265,1248 1210,1285 1166,1302 Z" fill="url(#gold2)"/>
<g clip-path="url(#clipD2)" opacity="0.45">
 <polygon points="1240,1150 1350,1140 1530,1255 1450,1265 1240,1235" fill="url(#net)"/>
</g>
<path d="M1552,1255 C1510,1268 1465,1316 1424,1316 C1385,1316 1350,1248 1308,1248 C1265,1248 1210,1285 1166,1302" fill="none" stroke="#f2e03a" stroke-width="3"/>
<g fill="#ffffff" stroke="#9ad890" stroke-width="2">
 <ellipse cx="1229" cy="1196" rx="9.5" ry="17" transform="rotate(15 1229 1196)"/>
 <ellipse cx="1416" cy="1196" rx="7" ry="7"/>
 <ellipse cx="1472" cy="1216" rx="13.5" ry="14.5"/>
 <ellipse cx="1382" cy="1270" rx="10" ry="13" fill="#f2eee4"/>
</g>
<text class="t" x="1269" y="1351" font-size="36" textLength="159" lengthAdjust="spacingAndGlyphs">g-C<tspan font-size="20">3</tspan>N<tspan font-size="20">4</tspan>-D2</text>
</svg>
</body></html>
